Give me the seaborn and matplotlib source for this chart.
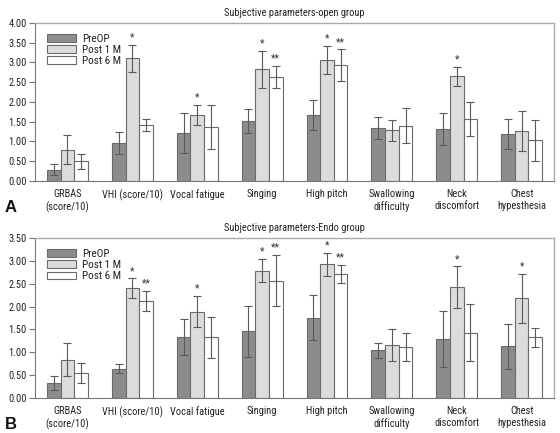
import matplotlib
matplotlib.use("Agg")
import matplotlib.pyplot as plt
import seaborn as sns
import pandas as pd
import numpy as np

categories = ["GRBAS\n(score/10)", "VHI (score/10)", "Vocal fatigue", "Singing",
              "High pitch", "Swallowing\ndifficulty", "Neck\ndiscomfort", "Chest\nhypesthesia"]
groups = ["PreOP", "Post 1 M", "Post 6 M"]

# Panel A (open group)
a_pre = [0.28, 0.96, 1.22, 1.52, 1.68, 1.34, 1.32, 1.18]
a_pre_err = [0.14, 0.28, 0.51, 0.30, 0.38, 0.27, 0.40, 0.38]
a_1m = [0.79, 3.11, 1.67, 2.83, 3.07, 1.28, 2.65, 1.26]
a_1m_err = [0.37, 0.34, 0.25, 0.47, 0.35, 0.27, 0.24, 0.50]
a_6m = [0.50, 1.41, 1.37, 2.63, 2.93, 1.40, 1.56, 1.03]
a_6m_err = [0.19, 0.15, 0.55, 0.28, 0.40, 0.44, 0.43, 0.52]
a_marks_1m = ["", "*", "*", "*", "*", "", "*", ""]
a_marks_6m = ["", "", "", "**", "**", "", "", ""]

# Panel B (Endo group)
b_pre = [0.33, 0.64, 1.33, 1.46, 1.76, 1.04, 1.29, 1.13]
b_pre_err = [0.16, 0.10, 0.39, 0.56, 0.50, 0.16, 0.62, 0.50]
b_1m = [0.84, 2.40, 1.89, 2.79, 2.93, 1.15, 2.43, 2.18]
b_1m_err = [0.36, 0.22, 0.34, 0.25, 0.25, 0.35, 0.45, 0.54]
b_6m = [0.55, 2.12, 1.33, 2.57, 2.71, 1.12, 1.43, 1.33]
b_6m_err = [0.22, 0.22, 0.45, 0.56, 0.20, 0.31, 0.63, 0.21]
b_marks_1m = ["", "*", "*", "*", "*", "", "*", "*"]
b_marks_6m = ["", "**", "", "**", "**", "", "", ""]

sns.set_theme(style="white")
plt.rcParams['font.family'] = ['Roboto Condensed', 'DejaVu Sans']

colors = ["#8c8c8c", "#dcdcdc", "#ffffff"]
edge = "#6a6a6a"

fig = plt.figure(figsize=(5.6, 4.33), dpi=100)
axA = fig.add_axes([0.0625, 0.582, 0.927, 0.365])
axB = fig.add_axes([0.0625, 0.081, 0.927, 0.369])


def draw(ax, pre, pre_e, m1, m1_e, m6, m6_e, mk1, mk6, title, ymax, letter):
    df = pd.DataFrame({
        "cat": categories * 3,
        "grp": [g for g in groups for _ in categories],
        "val": pre + m1 + m6,
    })
    sns.barplot(data=df, x="cat", y="val", hue="grp", order=categories,
                hue_order=groups, palette=colors, width=0.63, gap=0,
                edgecolor=edge, linewidth=0.8, errorbar=None, ax=ax)
    errs = [pre_e, m1_e, m6_e]
    marks = [[""] * len(categories), mk1, mk6]
    bar_conts = list(ax.containers)[:3]
    for ci, cont in enumerate(bar_conts):
        for bi, bar in enumerate(cont):
            x = bar.get_x() + bar.get_width() / 2
            h = bar.get_height()
            e = errs[ci][bi]
            ax.errorbar(x, h, yerr=e, color="#5a5a5a", elinewidth=0.8,
                        capsize=3, capthick=0.8, zorder=5)
            if marks[ci][bi]:
                ax.text(x, h + e + ymax * 0.015, marks[ci][bi], ha="center",
                        va="bottom", fontsize=7.5, color="#333333")
    ax.set_ylim(0, ymax)
    ax.set_xlim(-0.5, len(categories) - 0.5)
    ticks = np.arange(0, ymax + 0.01, 0.5)
    ax.set_yticks(ticks)
    ax.set_yticklabels([f"{v:.2f}" for v in ticks], fontsize=7.5, color="#222222")
    ax.set_xticks(range(len(categories)))
    ax.set_xticklabels(categories, fontsize=7.5, color="#222222")
    ax.set_xlabel("")
    ax.set_ylabel("")
    ax.tick_params(axis="y", direction="out", length=4, width=0.8,
                   color="#777777", left=True, pad=2)
    ax.tick_params(axis="x", length=0, pad=6)
    for s in ["top", "right"]:
        ax.spines[s].set_color("#aaaaaa")
        ax.spines[s].set_linewidth(1.0)
    for s in ["left", "bottom"]:
        ax.spines[s].set_color("#777777")
        ax.spines[s].set_linewidth(0.8)
    ax.set_title(title, fontsize=7.5, color="#222222", pad=5)
    leg = ax.legend(loc="upper left", bbox_to_anchor=(0.01, 0.975), frameon=False,
                    fontsize=8, handlelength=2.6, handleheight=0.7,
                    labelspacing=0.12, handletextpad=0.6, borderaxespad=0.2)
    for t in leg.get_texts():
        t.set_color("#222222")
    ax.text(-0.058, -0.165, letter, transform=ax.transAxes, fontsize=12,
            fontweight="bold", ha="left", va="center", color="#111111",
            family=["Liberation Sans", "DejaVu Sans"])


draw(axA, a_pre, a_pre_err, a_1m, a_1m_err, a_6m, a_6m_err, a_marks_1m, a_marks_6m,
     "Subjective parameters-open group", 4.0, "A")
draw(axB, b_pre, b_pre_err, b_1m, b_1m_err, b_6m, b_6m_err, b_marks_1m, b_marks_6m,
     "Subjective parameters-Endo group", 3.5, "B")

fig.savefig("out.png", dpi=100)
